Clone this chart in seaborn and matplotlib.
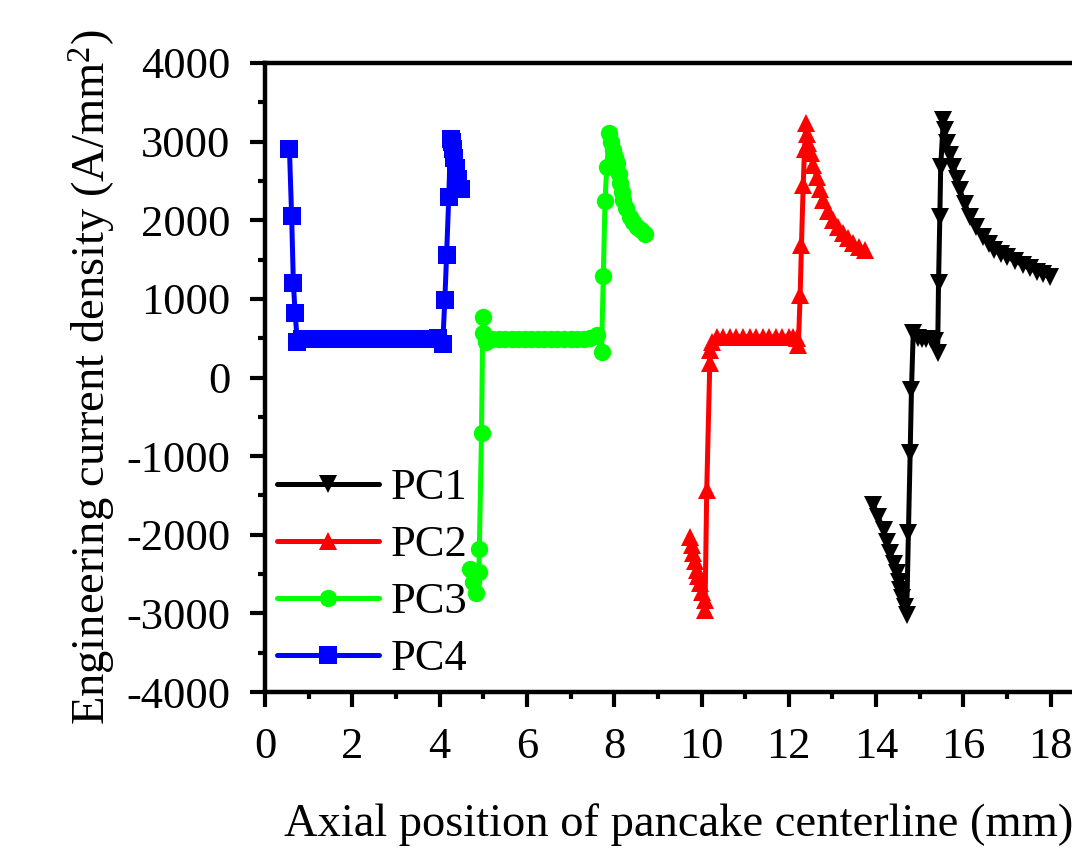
import numpy as np
import pandas as pd
import matplotlib
matplotlib.use("Agg")
import matplotlib.pyplot as plt
from matplotlib.ticker import MultipleLocator
import seaborn as sns

# ---------------- data ----------------
pc1_x = [13.94, 14.05, 14.17, 14.25, 14.32, 14.40, 14.47, 14.52, 14.55, 14.60, 14.66, 14.70,
         14.74, 14.78, 14.81, 14.85, 14.95, 15.05, 15.15, 15.25, 15.35, 15.41, 15.43, 15.46,
         15.48, 15.54, 15.57, 15.62, 15.70, 15.77, 15.85, 15.92, 16.03, 16.15, 16.30, 16.46,
         16.58, 16.69, 16.85, 16.99, 17.18, 17.37, 17.52, 17.68, 17.83, 17.98]
pc1_y = [-1622, -1780, -1940, -2090, -2237, -2370, -2491, -2600, -2704, -2810, -2916, -3022,
         -1982, -964, -159, 562, 500, 490, 490, 490, 470, 311, 1198, 2046,
         2682, 3276, 3150, 2980, 2830, 2682, 2530, 2385, 2210, 2046, 1910, 1791,
         1700, 1622, 1575, 1537, 1485, 1431, 1390, 1346, 1315, 1282]

pc2_x = [9.74, 9.78, 9.81, 9.85, 9.89, 9.93, 9.97, 10.02, 10.08, 10.08, 10.12, 10.19, 10.19,
         10.23, 10.35, 10.50, 10.65, 10.80, 10.95, 11.10, 11.25, 11.40, 11.55, 11.70, 11.85,
         12.00, 12.10, 12.18, 12.22, 12.26, 12.29, 12.33, 12.36, 12.39, 12.42, 12.45, 12.50,
         12.55, 12.64, 12.71, 12.79, 12.90, 13.02, 13.13, 13.25, 13.36, 13.48, 13.61, 13.74]
pc2_y = [-2025, -2130, -2237, -2340, -2449, -2530, -2619, -2730, -2831, -2958, -1431, 180, 350,
         455, 520, 520, 520, 520, 520, 520, 520, 520, 520, 520, 520,
         520, 520, 500, 413, 1050, 1686, 2449, 2900, 3234, 3100, 2980, 2850,
         2700, 2555, 2400, 2258, 2120, 2004, 1910, 1835, 1770, 1707, 1660, 1622]

pc3_x = [4.70, 4.77, 4.83, 4.90, 4.91, 4.96, 4.99, 5.00, 5.07, 5.20, 5.35, 5.50, 5.65, 5.80,
         5.95, 6.10, 6.25, 6.40, 6.55, 6.70, 6.85, 7.00, 7.15, 7.30, 7.45, 7.60, 7.71, 7.75,
         7.79, 7.83, 7.89, 7.93, 7.98, 8.02, 8.06, 8.10, 8.13, 8.17, 8.21, 8.28, 8.36, 8.44,
         8.52, 8.61, 8.71]
pc3_y = [-2430, -2598, -2738, -2470, -2186, -710, 766, 566, 455, 490, 490, 490, 490, 490,
         490, 490, 490, 490, 490, 490, 490, 490, 490, 490, 500, 540, 328, 1291,
         2250, 2674, 3107, 3000, 2894, 2800, 2725, 2590, 2471, 2360, 2258, 2150, 2046, 1980,
         1919, 1870, 1826]

pc4_x = [0.56, 0.61, 0.65, 0.69, 0.74, 0.85, 1.00, 1.15, 1.30, 1.45, 1.60, 1.75, 1.90, 2.05,
         2.20, 2.35, 2.50, 2.65, 2.80, 2.95, 3.10, 3.25, 3.40, 3.55, 3.70, 3.85, 3.97, 4.07,
         4.12, 4.16, 4.21, 4.25, 4.28, 4.31, 4.34, 4.38, 4.43, 4.50]
pc4_y = [2903, 2055, 1198, 825, 456, 490, 490, 490, 490, 490, 490, 490, 490, 490,
         490, 490, 490, 490, 490, 490, 490, 490, 490, 490, 490, 490, 500, 420,
         986, 1558, 2292, 3030, 2990, 2900, 2790, 2660, 2520, 2400]

series_names = ["PC1", "PC2", "PC3", "PC4"]
series_colors = {"PC1": "#000000", "PC2": "#ff0000", "PC3": "#00ff00", "PC4": "#0000ff"}
series_markers = {"PC1": "v", "PC2": "^", "PC3": "o", "PC4": "s"}

x_ticks = [0, 2, 4, 6, 8, 10, 12, 14, 16, 18, 20]
y_ticks = [-4000, -3000, -2000, -1000, 0, 1000, 2000, 3000, 4000]

df = pd.concat([
    pd.DataFrame({"x": pc1_x, "y": pc1_y, "series": "PC1"}),
    pd.DataFrame({"x": pc2_x, "y": pc2_y, "series": "PC2"}),
    pd.DataFrame({"x": pc3_x, "y": pc3_y, "series": "PC3"}),
    pd.DataFrame({"x": pc4_x, "y": pc4_y, "series": "PC4"}),
], ignore_index=True)

# ---------------- style ----------------
sns.set_style("ticks")
plt.rcParams["font.family"] = ["Liberation Serif", "DejaVu Serif"]
plt.rcParams["mathtext.fontset"] = "custom"
plt.rcParams["mathtext.rm"] = "Liberation Serif"
plt.rcParams["mathtext.it"] = "Liberation Serif:italic"
plt.rcParams["mathtext.bf"] = "Liberation Serif:bold"
plt.rcParams["axes.unicode_minus"] = False
for k in ["text.color", "axes.labelcolor", "xtick.color", "ytick.color", "axes.edgecolor"]:
    plt.rcParams[k] = "black"

FS_TICK = 32
FS_LABEL = 33.5
fig = plt.figure(figsize=(10.72, 8.57), dpi=100)
# axes extends past the right edge of the figure (cropped, as in the reference)
ax = fig.add_axes([265 / 1072, 165 / 857, 873 / 1072, 629 / 857])

sns.lineplot(data=df, x="x", y="y", hue="series", style="series",
             hue_order=series_names, style_order=series_names,
             palette=series_colors, markers=series_markers, dashes=False,
             sort=False, estimator=None, linewidth=3.6, markersize=12.5,
             markeredgewidth=0, legend=False, ax=ax)

ax.set_xlim(0, 20)
ax.set_ylim(-4000, 4000)
ax.set_xticks(x_ticks)
ax.set_yticks(y_ticks)
ax.xaxis.set_minor_locator(MultipleLocator(1))
ax.yaxis.set_minor_locator(MultipleLocator(500))

for s in ax.spines.values():
    s.set_linewidth(3.2)
    s.set_color("black")

ax.tick_params(axis="both", which="major", direction="out", length=11, width=3,
               labelsize=FS_TICK, pad=14, colors="black", top=False, right=False)
ax.tick_params(axis="both", which="minor", direction="out", length=5, width=3,
               top=False, right=False)

ax.set_xlabel("Axial position of pancake centerline (mm)", fontsize=FS_LABEL, labelpad=26)
ax.xaxis.label.set_x(0.474)
ax.set_ylabel("Engineering current density (A/mm$^2$)", fontsize=FS_LABEL, labelpad=6)

handles = ax.lines[:4]
ax.legend(handles, series_names, loc="lower left", bbox_to_anchor=(0.014, 0.02),
          frameon=False, fontsize=FS_TICK, handlelength=2.3, handletextpad=0.25,
          labelspacing=0.38, borderpad=0, borderaxespad=0)

fig.savefig("out.png", dpi=100)
